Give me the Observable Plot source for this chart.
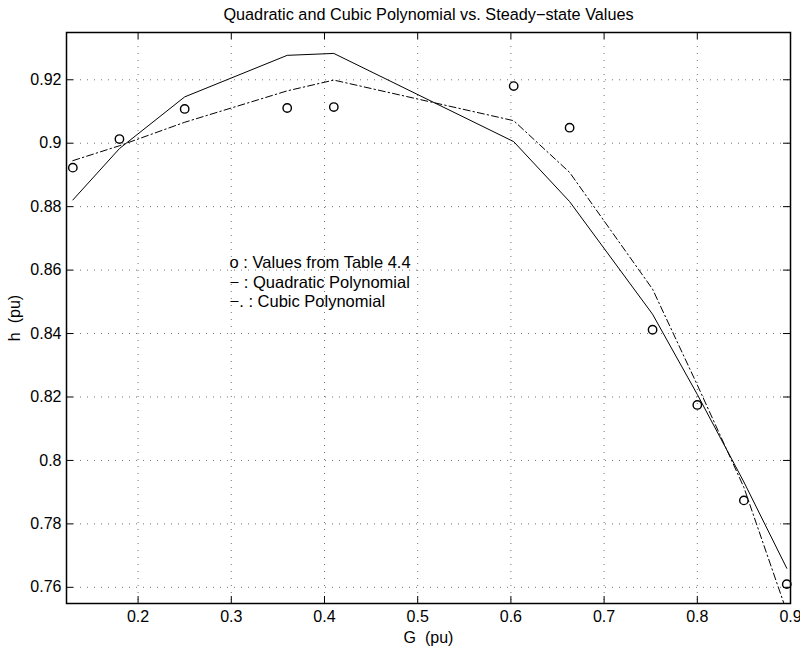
<!DOCTYPE html>
<html>
<head>
<meta charset="utf-8">
<script src="https://cdn.jsdelivr.net/npm/d3@7"></script>
<script src="https://cdn.jsdelivr.net/npm/@observablehq/plot@0.6"></script>
<style>
  html, body { margin: 0; padding: 0; background: #fff; }
</style>
</head>
<body>
<div id="chart"></div>
<script>
// ---- data ----
const G = [0.13, 0.18, 0.25, 0.36, 0.41, 0.603, 0.663, 0.752, 0.80, 0.85, 0.896];
const hTable = [0.8923, 0.9013, 0.9108, 0.9111, 0.9114, 0.9180, 0.9049, 0.8412, 0.8175, 0.7874, 0.7610];
const hQuadratic = [0.8821, 0.8983, 0.9146, 0.9277, 0.9283, 0.9005, 0.8816, 0.8461, 0.8208, 0.7932, 0.7660];
const hCubic = [0.8945, 0.8992, 0.9066, 0.9165, 0.9199, 0.9071, 0.8908, 0.8540, 0.8238, 0.7915, 0.7523];
const xTicks = [0.2, 0.3, 0.4, 0.5, 0.6, 0.7, 0.8, 0.9];
const yTicks = [0.76, 0.78, 0.80, 0.82, 0.84, 0.86, 0.88, 0.90, 0.92];
const legendLabels = ["o : Values from Table 4.4", "\u2212 : Quadratic Polynomial", "\u2212. : Cubic Polynomial"];
const titleText = "Quadratic and Cubic Polynomial vs. Steady\u2212state Values";
const xLabel = "G  (pu)";
const yLabel = "h  (pu)";

// ---- tables built from the arrays ----
const pts = G.map((g, i) => ({g, h: hTable[i]}));
const quad = G.map((g, i) => ({g, h: hQuadratic[i]}));
const cubic = G.map((g, i) => ({g, h: hCubic[i]}));
const legend = legendLabels.map((t, i) => ({t, i}));

const W = 800, H = 648;
const mL = 66, mR = 10, mT = 32, mB = 45;
const fw = W - mL - mR, fh = H - mT - mB;
const fmt = d => String(+d.toFixed(2));
const tick = 7;

const chart = Plot.plot({
  width: W,
  height: H,
  marginLeft: mL,
  marginRight: mR,
  marginTop: mT,
  marginBottom: mB,
  style: {fontFamily: "'Liberation Sans', Arial, Helvetica, sans-serif", fontSize: "16px", color: "#000", background: "#fff"},
  x: {domain: [0.1232, 0.9]},
  y: {domain: [0.7549, 0.9349]},
  marks: [
    Plot.gridX(xTicks, {stroke: "#000", strokeOpacity: 0.55, strokeDasharray: "1,6"}),
    Plot.gridY(yTicks, {stroke: "#000", strokeOpacity: 0.55, strokeDasharray: "1,6"}),
    Plot.axisX(xTicks, {tickSize: 0, tickPadding: 7.3, tickFormat: fmt, label: null}),
    Plot.axisY(yTicks, {tickSize: 0, tickPadding: 5, tickFormat: fmt, label: null}),
    // inward ticks on all four sides
    Plot.ruleX(xTicks, {x: d => d, insetTop: fh - tick, stroke: "#000"}),
    Plot.ruleX(xTicks, {x: d => d, insetBottom: fh - tick, stroke: "#000"}),
    Plot.ruleY(yTicks, {y: d => d, insetRight: fw - tick, stroke: "#000"}),
    Plot.ruleY(yTicks, {y: d => d, insetLeft: fw - tick, stroke: "#000"}),
    Plot.line(quad, {x: "g", y: "h", stroke: "#000", strokeWidth: 1, clip: true}),
    Plot.line(cubic, {x: "g", y: "h", stroke: "#000", strokeWidth: 1, strokeDasharray: "7,3,1.5,3", clip: true}),
    Plot.dot(pts, {x: "g", y: "h", r: 4.2, stroke: "#000", strokeWidth: 1.4, fill: "none"}),
    Plot.text(legend, {x: () => 0.2982, y: d => 0.86066 - d.i * 0.0062, text: "t", textAnchor: "start", lineAnchor: "bottom", fontSize: 16.5}),
    Plot.frame({stroke: "#000", strokeWidth: 1.5}),
    Plot.text([titleText], {frameAnchor: "top", text: d => d, lineAnchor: "bottom", dy: -13, fontSize: 16.25}),
    Plot.text([xLabel], {frameAnchor: "bottom", text: d => d, lineAnchor: "bottom", dy: 39.3}),
    Plot.text([yLabel], {frameAnchor: "left", text: d => d, rotate: -90, textAnchor: "middle", lineAnchor: "bottom", dx: -46.5})
  ]
});
document.getElementById("chart").appendChild(chart);
</script>
</body>
</html>
